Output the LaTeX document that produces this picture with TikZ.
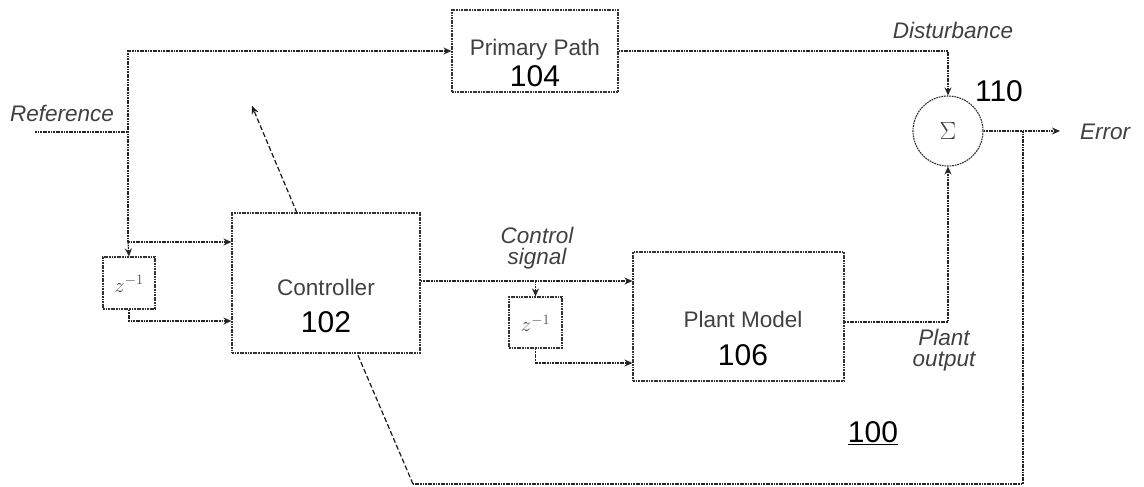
\documentclass[tikz,border=0pt]{standalone}
\usepackage{fontspec}
\setmainfont{Liberation Sans}
\usetikzlibrary{arrows.meta}
\begin{document}
\begin{tikzpicture}[x=1pt,y=-1pt,
  line/.style={draw=black!85, line width=1.2pt, dash pattern=on 1.8pt off 0.8pt},
  diag/.style={draw=black!90, line width=1.2pt, dash pattern=on 5pt off 2.5pt},
  arr/.style={-{Stealth[length=8pt,width=7pt]}},
  blk/.style={draw=black!80, line width=1.1pt, dash pattern=on 1.8pt off 0.8pt, rectangle, inner sep=0pt},
  lbl/.style={font=\fontsize{22.5}{24}\selectfont\itshape, text=black!75, inner sep=0pt},
  blkname/.style={font=\fontsize{22.5}{24}\selectfont, text=black!75, inner sep=0pt},
  num/.style={font=\fontsize{30}{32}\selectfont, inner sep=0pt},
  zt/.style={text=black!70, font=\fontsize{22}{22}\selectfont, inner sep=0pt}
]
\useasboundingbox (0,0) rectangle (1144,487);
% blocks
\node[blk, minimum width=166pt, minimum height=82pt] (pp) at (535,51) {};
\node[blkname] (ppt) at (535,50) {Primary Path};
\node[num] (ppn) at (535,76) {104};
\node[blk, minimum width=188pt, minimum height=140pt] (ctrl) at (326,283) {};
\node[blkname] (ctt) at (326,287) {Controller};
\node[num] (ctn) at (326,322) {102};
\node[blk, minimum width=211pt, minimum height=129pt] (plant) at (738.5,316.5) {};
\node[blkname] (plt) at (743,319) {Plant Model};
\node[num] (pln) at (743,355) {106};
\node[blk, minimum width=52pt, minimum height=52pt] (z1) at (129,283) {};
\node[zt] (z1t) at (129,284) {$z^{-1}$};
\node[blk, minimum width=53pt, minimum height=51pt] (z2) at (535.5,322.5) {};
\node[zt] (z2t) at (535.5,323.5) {$z^{-1}$};
\node[draw=black!80, line width=1.1pt, dash pattern=on 1.8pt off 0.8pt, circle, minimum size=70pt, inner sep=0pt] (sum) at (948,131) {};
\node[text=black!75, font=\fontsize{26}{26}\selectfont, inner sep=0pt] (sumt) at (948,131) {$\Sigma$};
% labels
\node[lbl] (ref) at (62,113) {Reference};
\node[lbl] (dist) at (953,30) {Disturbance};
\node[num] (n110) at (999,91) {110};
\node[lbl, anchor=west] (err) at (1080,132) {Error};
\node[lbl] (cs1) at (537,235) {Control};
\node[lbl] (cs2) at (537,259) {signal};
\node[lbl] (po1) at (944,337) {Plant};
\node[lbl] (po2) at (944,362) {output};
\node[num] (n100) at (873,433) {\underline{100}};
% coordinates
\coordinate (refin) at (35,132);
\coordinate (jref) at (128,132);
\coordinate (jtop) at (128,51);
\coordinate (jin) at (128,242);
\coordinate (zout) at (129,321);
\coordinate (jcs) at (535.5,281);
\coordinate (z2out) at (535.5,363);
\coordinate (pout) at (948,322);
\coordinate (dtop) at (948,51);
\coordinate (jerr) at (1023,131);
\coordinate (errend) at (1060,131);
\coordinate (fbr) at (1023,484);
\coordinate (fbl) at (413,484);
\coordinate (ctrlbot) at (357,353);
\coordinate (adtail) at (297,213);
\coordinate (adtip) at (252,106);
% connectors
\draw[line] (refin) -- (jref);
\draw[line, arr] (jin) |- (jtop) -- (pp.west);
\draw[line, arr] (jin) -- (ctrl.west |- jin);
\draw[line, arr] (jin) -- (z1.north);
\draw[line, arr] (z1.south) -- (zout) -- (ctrl.west |- zout);
\draw[line, arr] (ctrl.east |- jcs) -- (plant.west |- jcs);
\draw[line, arr] (jcs) -- (z2.north);
\draw[line, arr] (z2.south) -- (z2out) -- (plant.west |- z2out);
\draw[line, arr] (plant.east |- pout) -- (pout) -- (sum.south);
\draw[line, arr] (pp.east |- dtop) -- (dtop) -- (sum.north);
\draw[line, arr] (sum.east) -- (errend);
\draw[line] (jerr) -- (fbr) -- (fbl);
\draw[diag] (fbl) -- (ctrlbot);
\draw[diag, arr] (adtail) -- (adtip);
\end{tikzpicture}
\end{document}
